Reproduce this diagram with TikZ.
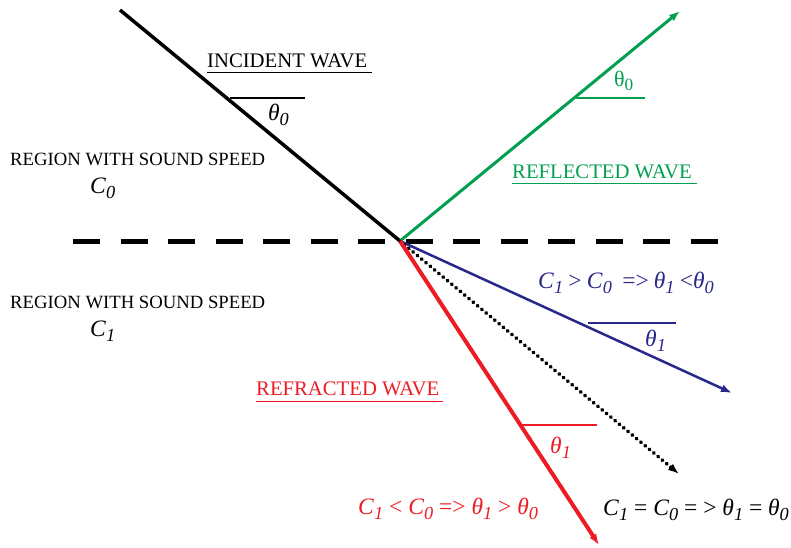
\documentclass[tikz,border=0pt]{standalone}
\usepackage{fontspec}
\setmainfont{Liberation Serif}
\usetikzlibrary{arrows.meta,calc}
\definecolor{wgreen}{RGB}{0,160,80}
\definecolor{wblue}{RGB}{40,40,140}
\definecolor{wred}{RGB}{237,28,36}
\newcommand{\vsub}[1]{\raisebox{-0.22em}{\fontsize{0.78em}{1em}\selectfont #1}}
\newcommand{\vC}[1]{\textit{C}\vsub{\textit{#1}}}
\newcommand{\vT}[1]{\textit{θ}\vsub{\textit{#1}}}
\newcommand{\gap}{\hspace{0.22em}}
\begin{document}
\begin{tikzpicture}[x=1pt,y=-1pt,
  lbl/.style={inner sep=0pt,anchor=base west},
  title/.style={lbl,font=\fontsize{20.7}{22}\selectfont},
  region/.style={lbl,font=\fontsize{18.7}{20}\selectfont},
  mth/.style={lbl,font=\fontsize{23.5}{25}\selectfont},
  tip/.style={-{Latex[length=11pt,width=8pt]}},
  ul/.style={line width=1.4pt}]
\useasboundingbox (0,0) rectangle (791,547);
\coordinate (O) at (400,241);
\coordinate (inc) at (120,10);
\coordinate (refl) at (680,11);
\coordinate (blu) at (732,393);
\coordinate (red) at (599,545);
\coordinate (dot) at (679,474);
\coordinate (dL) at (73,241);
\coordinate (dR) at (720,241);
\coordinate (dotA) at ($(dot)!6pt!(O)$);
\coordinate (dotB) at ($(dot)!12pt!(O)$);
% boundary
\draw[line width=5pt,dash pattern=on 27pt off 20.5pt] (dL) -- (dR);
% rays
\draw[line width=3.5pt] (inc) -- (O);
\draw[wgreen,line width=3pt,tip] (O) -- (refl);
\draw[wblue,line width=2.5pt,tip] (O) -- (blu);
\draw[line width=3.8pt,line cap=round,dash pattern=on 0.6pt off 5pt] (O) -- (dotA);
\draw[line width=3pt,tip] (dotB) -- (dot);
\draw[wred,line width=4pt,tip] (O) -- (red);
% incident labels
\node[title] (tinc) at (207,67) {INCIDENT WAVE};
\draw[ul] (tinc.south west) ++(0,5) -- ++(165,0);
\coordinate (a1) at (230,98); \coordinate (a2) at (305,98);
\draw[line width=1.3pt] (a1) -- (a2);
\node[mth] (th0) at (268,120) {\vT{0}};
% regions
\node[region] (r0) at (10,165) {REGION WITH SOUND SPEED};
\node[mth] (c0) at (90,193) {\vC{0}};
\node[region] (r1) at (10,308) {REGION WITH SOUND SPEED};
\node[mth] (c1) at (90,336) {\vC{1}};
% reflected
\node[title,text=wgreen] (trefl) at (512,178) {REFLECTED WAVE};
\draw[ul,wgreen] (trefl.south west) ++(0,5) -- ++(185,0);
\coordinate (g1) at (576,98); \coordinate (g2) at (645,98);
\draw[wgreen,line width=1.3pt] (g1) -- (g2);
\node[lbl,text=wgreen,font=\fontsize{22}{22}\selectfont] (gth) at (614,86) {θ\vsub{0}};
% blue
\node[mth,text=wblue] (bt) at (538,288) {\vC{1}\gap>\gap\vC{0}\gap\gap=>\gap\vT{1}\gap<\vT{0}};
\coordinate (b1) at (588,323); \coordinate (b2) at (676,323);
\draw[wblue,line width=1.3pt] (b1) -- (b2);
\node[mth,text=wblue] (bth) at (645,346) {\vT{1}};
% red
\node[title,text=wred] (tref) at (256,395) {REFRACTED WAVE};
\draw[ul,wred] (tref.south west) ++(0,6) -- ++(187,0);
\coordinate (e1) at (522,425); \coordinate (e2) at (597,425);
\draw[wred,line width=1.3pt] (e1) -- (e2);
\node[mth,text=wred] (rth) at (550,453) {\vT{1}};
\node[mth,text=wred] (rt) at (358,514) {\vC{1} < \vC{0} => \vT{1} > \vT{0}};
% black equal
\node[mth] (kt) at (603,515) {\vC{1} = \vC{0} = > \vT{1} = \vT{0}};
\end{tikzpicture}
\end{document}
